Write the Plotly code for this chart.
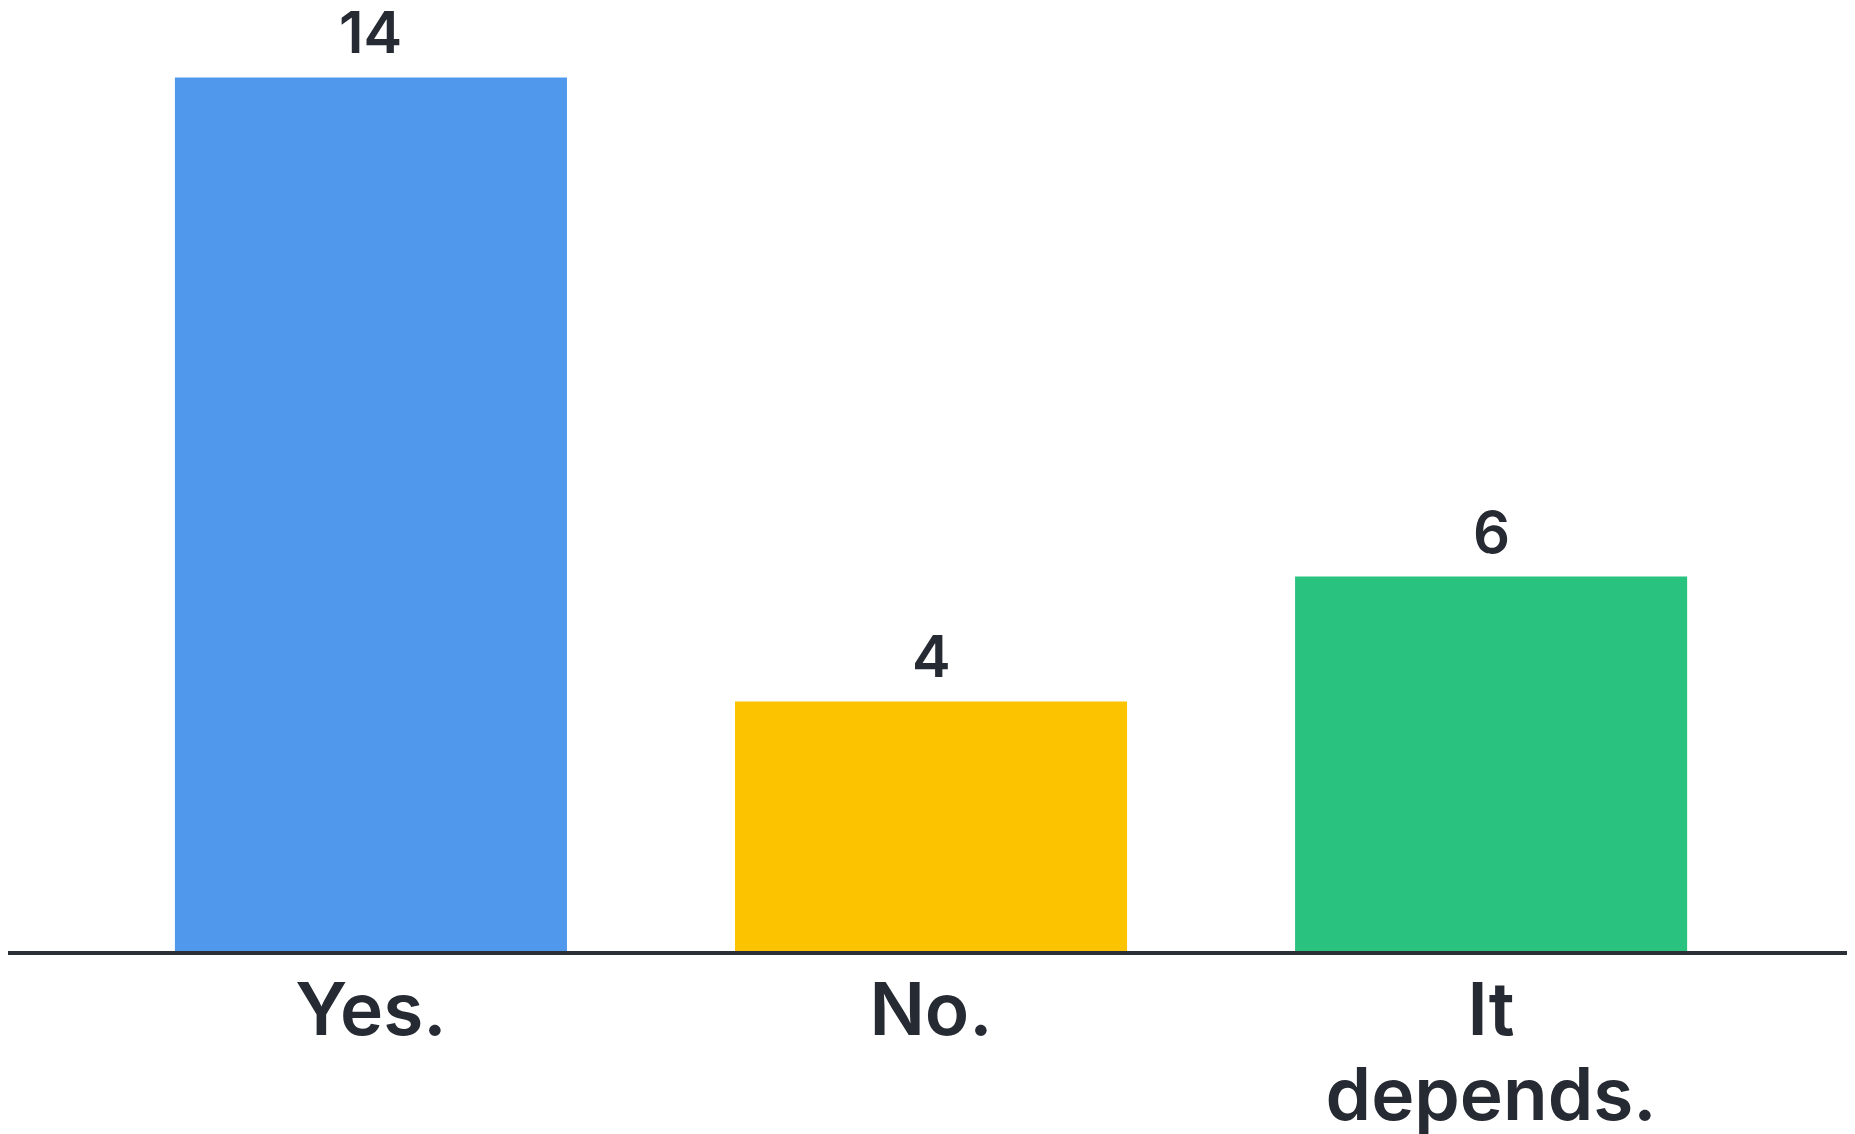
import plotly.graph_objects as go

categories = ["Yes.", "No.", "It<br>depends."]
values = [14, 4, 6]
colors = ["#4F98EC", "#FCC400", "#29C27F"]

TEXT = "#262A33"
FONT = "Inter"

# tick text: larger glyphs than the base size, so that line spacing stays tight
ticktext = ["<br>".join('<span style="font-size:73px">%s</span>' % part
                        for part in c.split("<br>")) for c in categories]

fig = go.Figure()
fig.add_trace(go.Bar(
    x=categories,
    y=values,
    marker=dict(color=colors, line=dict(width=0)),
    hoverinfo="skip",
))

for c, v in zip(categories, values):
    fig.add_annotation(
        x=c, y=v, text=str(v), showarrow=False,
        yanchor="bottom", yshift=8,
        font=dict(family=FONT, size=58, color=TEXT, weight=600),
    )

fig.update_layout(
    width=1855, height=1134,
    margin=dict(l=0, r=0, t=0, b=191, autoexpand=False),
    paper_bgcolor="#FFFFFF",
    plot_bgcolor="#FFFFFF",
    bargap=0.3,
    showlegend=False,
    xaxis=dict(
        range=[-0.648, 2.664],
        automargin=False,
        showline=True, linecolor="#2B2F36", linewidth=4,
        showgrid=False, zeroline=False,
        ticks="", ticklabelstandoff=2,
        tickmode="array", tickvals=categories, ticktext=ticktext,
        tickfont=dict(family=FONT, size=65, color=TEXT, weight=600),
        fixedrange=True,
    ),
    yaxis=dict(
        range=[0, 943 / 62.4],
        visible=False,
        automargin=False,
        showgrid=False, zeroline=False,
        fixedrange=True,
    ),
)

fig.write_html("out.html")
